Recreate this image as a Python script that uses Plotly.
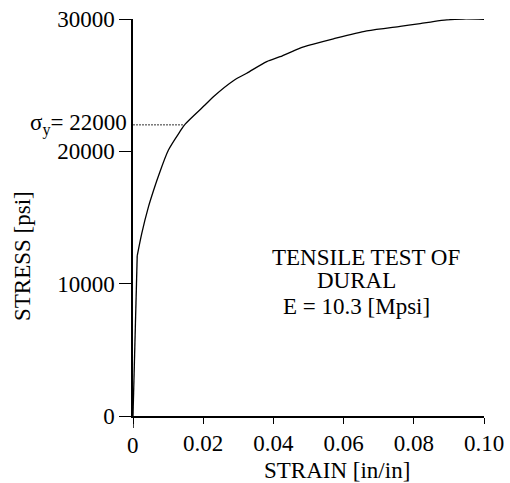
import plotly.graph_objects as go

# ---- data ----
strain = [0, 0.0012, 0.0025, 0.0044, 0.0058, 0.0072, 0.0101, 0.0134, 0.0148,
          0.0205, 0.0229, 0.0286, 0.0324, 0.0381, 0.0419, 0.0476, 0.0514,
          0.0571, 0.0666, 0.0761, 0.0818, 0.0855, 0.0894, 0.0940, 0.1000]
stress = [0, 12100, 13800, 15800, 17000, 18100, 20100, 21500, 22040,
          23500, 24130, 25340, 25900, 26780, 27150, 27800, 28100,
          28500, 29100, 29450, 29650, 29800, 29930, 30000, 29980]

yield_stress = 22000
yield_strain = 0.0148

x_tickvals = [0, 0.02, 0.04, 0.06, 0.08, 0.10]
x_ticktext = ["", "0.02", "0.04", "0.06", "0.08", "0.10"]
y_tickvals = [0, 10000, 20000, 30000]
y_ticktext = ["0", "10000", "20000", "30000"]

FONT = "Liberation Serif"
FS = 23

fig = go.Figure()
# elastic part (straight) and plastic part (smooth)
fig.add_trace(go.Scatter(x=strain[:2], y=stress[:2], mode="lines",
                         line=dict(color="black", width=1.3),
                         showlegend=False, hoverinfo="skip"))
fig.add_trace(go.Scatter(x=strain[1:], y=stress[1:], mode="lines",
                         line=dict(color="black", width=1.3, shape="spline", smoothing=0.8),
                         showlegend=False, hoverinfo="skip"))
fig.add_trace(go.Scatter(x=[0, yield_strain], y=[yield_stress, yield_stress],
                         mode="lines",
                         line=dict(color="#333333", width=1, dash="2px,1px"),
                         showlegend=False, hoverinfo="skip"))

W, H = 510, 483
L, R, T, B = 133, 26, 19, 67
pw = W - L - R
ph = H - T - B

def px(xp):
    return (xp - L) / pw

def py(yp):
    return (H - B - yp) / ph

annotations = [
    dict(text="STRAIN [in/in]", x=px(336.5), y=py(470), xref="paper", yref="paper",
         showarrow=False, xanchor="center", yanchor="middle"),
    dict(text="STRESS [psi]", x=px(22), y=py(256), xref="paper", yref="paper",
         showarrow=False, textangle=-90, xanchor="center", yanchor="middle"),
    dict(text="TENSILE TEST OF", x=px(366), y=py(257.5), xref="paper", yref="paper",
         showarrow=False, xanchor="center", yanchor="middle"),
    dict(text="DURAL", x=px(356.5), y=py(280.5), xref="paper", yref="paper",
         showarrow=False, xanchor="center", yanchor="middle"),
    dict(text="E = 10.3 [Mpsi]", x=px(356), y=py(306), xref="paper", yref="paper",
         showarrow=False, xanchor="center", yanchor="middle"),
    dict(text="σ<sub>y</sub>= %d" % yield_stress, x=px(129), y=yield_stress,
         xref="paper", yref="y", showarrow=False, xanchor="right", yanchor="middle"),
    dict(text="0", x=0, y=py(446), xref="x", yref="paper",
         showarrow=False, xanchor="center", yanchor="middle"),
]

fig.update_layout(
    width=W, height=H,
    margin=dict(l=L, r=R, t=T, b=B, autoexpand=False),
    paper_bgcolor="white", plot_bgcolor="white",
    font=dict(family=FONT, size=FS, color="black"),
    annotations=annotations,
    shapes=[dict(type="line", xref="x", yref="paper", x0=0, x1=0,
                 y0=0, y1=py(428), line=dict(color="black", width=1.5))],
    xaxis=dict(range=[0, 0.1], showgrid=False, zeroline=False, automargin=False,
               showline=True, linecolor="black", linewidth=1.5,
               ticks="outside", ticklen=6, tickwidth=1, tickcolor="black",
               tickvals=x_tickvals, ticktext=x_ticktext),
    yaxis=dict(range=[0, 30000], showgrid=False, zeroline=False, automargin=False,
               showline=True, linecolor="black", linewidth=1.5,
               ticks="outside", ticklen=12, tickwidth=1, tickcolor="black",
               tickvals=y_tickvals, ticktext=y_ticktext),
)

fig.write_html("out.html", config={"displayModeBar": False},
               post_script="document.body.style.margin='0';document.body.style.padding='0';")
